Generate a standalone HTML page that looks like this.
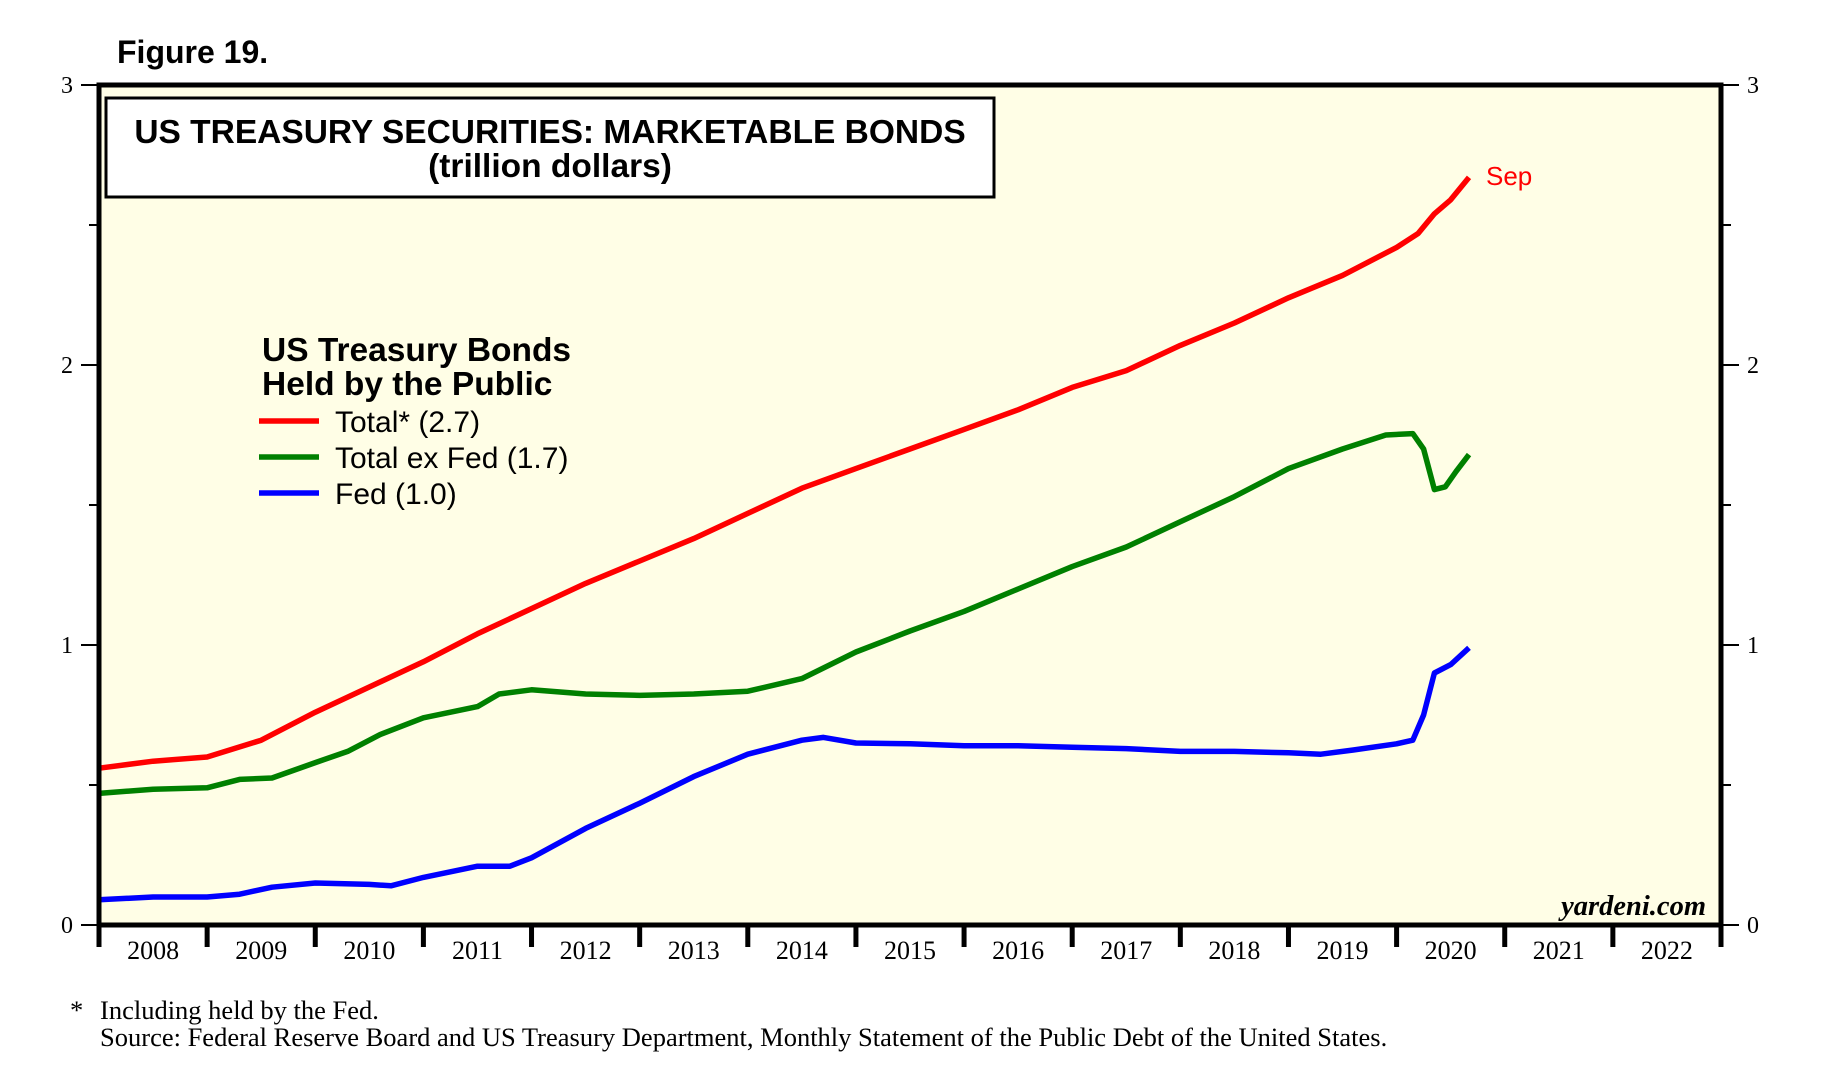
<!DOCTYPE html>
<html><head><meta charset="utf-8"><style>
html,body{margin:0;padding:0;background:#fff}
svg{display:block}
.serif{font-family:"Liberation Serif",serif}
.sans{font-family:"Liberation Sans",sans-serif}
</style></head><body>
<svg id="chart" width="1826" height="1091" viewBox="0 0 1826 1091">
<text x="117" y="63" class="sans" font-size="32" font-weight="bold">Figure 19.</text>
<rect x="99" y="85" width="1622" height="840" fill="#fffee6"/>
<g id="axes"></g>
<g id="series"></g>
<rect x="99" y="85" width="1622" height="840" fill="none" stroke="#000" stroke-width="5"/>
<rect x="106" y="98" width="888" height="99" fill="#fff" stroke="#000" stroke-width="3"/>
<text x="550" y="143" text-anchor="middle" class="sans" font-size="33.5" font-weight="bold">US TREASURY SECURITIES: MARKETABLE BONDS</text>
<text x="550" y="177" text-anchor="middle" class="sans" font-size="33.5" font-weight="bold">(trillion dollars)</text>
<text x="262" y="361" class="sans" font-size="33.5" font-weight="bold">US Treasury Bonds</text>
<text x="262" y="395" class="sans" font-size="33.5" font-weight="bold">Held by the Public</text>
<g><line x1="259" y1="421" x2="319" y2="421" stroke="#f00" stroke-width="5.5"/><text x="335" y="432" class="sans" font-size="30">Total* (2.7)</text></g>
<g><line x1="259" y1="457" x2="319" y2="457" stroke="#008000" stroke-width="5.5"/><text x="335" y="468" class="sans" font-size="30">Total ex Fed (1.7)</text></g>
<g><line x1="259" y1="493" x2="319" y2="493" stroke="#00f" stroke-width="5.5"/><text x="335" y="504" class="sans" font-size="30">Fed (1.0)</text></g>
<text x="1486" y="185" class="sans" font-size="26" fill="#f00">Sep</text>
<text x="1706" y="915" text-anchor="end" class="serif" font-size="28.5" font-weight="bold" font-style="italic">yardeni.com</text>
<text x="70" y="1019" class="serif" font-size="26.5">*</text>
<text x="100" y="1019" class="serif" font-size="26.5">Including held by the Fed.</text>
<text x="100" y="1046" class="serif" font-size="26.5">Source: Federal Reserve Board and US Treasury Department, Monthly Statement of the Public Debt of the United States.</text>
</svg>
<script>
const years = [2008,2009,2010,2011,2012,2013,2014,2015,2016,2017,2018,2019,2020,2021,2022];
const yTicks = [0,1,2,3];
const totalT = [2008.0,2008.5,2009.0,2009.5,2010.0,2010.5,2011.0,2011.5,2012.0,2012.5,2013.0,2013.5,2014.0,2014.5,2015.0,2015.5,2016.0,2016.5,2017.0,2017.5,2018.0,2018.5,2019.0,2019.5,2020.0,2020.2,2020.35,2020.5,2020.67];
const totalV = [0.56,0.585,0.60,0.66,0.76,0.85,0.94,1.04,1.13,1.22,1.30,1.38,1.47,1.56,1.63,1.70,1.77,1.84,1.92,1.98,2.07,2.15,2.24,2.32,2.42,2.47,2.54,2.59,2.67];
const exFedT = [2008.0,2008.5,2009.0,2009.3,2009.6,2010.0,2010.3,2010.6,2011.0,2011.5,2011.7,2012.0,2012.5,2013.0,2013.5,2014.0,2014.5,2015.0,2015.5,2016.0,2016.5,2017.0,2017.5,2018.0,2018.5,2019.0,2019.5,2019.9,2020.15,2020.25,2020.35,2020.45,2020.55,2020.67];
const exFedV = [0.47,0.485,0.49,0.52,0.525,0.58,0.62,0.68,0.74,0.78,0.825,0.84,0.825,0.82,0.825,0.835,0.88,0.975,1.05,1.12,1.20,1.28,1.35,1.44,1.53,1.63,1.70,1.75,1.755,1.70,1.555,1.565,1.62,1.68];
const fedT = [2008.0,2008.5,2009.0,2009.3,2009.6,2010.0,2010.5,2010.7,2011.0,2011.5,2011.8,2012.0,2012.5,2013.0,2013.5,2014.0,2014.5,2014.7,2015.0,2015.5,2016.0,2016.5,2017.0,2017.5,2018.0,2018.5,2019.0,2019.3,2019.6,2020.0,2020.15,2020.25,2020.35,2020.5,2020.67];
const fedV = [0.09,0.10,0.10,0.11,0.135,0.15,0.145,0.14,0.17,0.21,0.21,0.24,0.345,0.435,0.53,0.61,0.66,0.67,0.65,0.647,0.64,0.64,0.635,0.63,0.62,0.62,0.615,0.61,0.625,0.647,0.66,0.75,0.90,0.93,0.99];

const L=99,R=1721,T=85,B=925,NS="http://www.w3.org/2000/svg";
const xS = t => L + (t-2008)/15*(R-L);
const yS = v => B - v/3*(B-T);
function mk(tag,attrs,parent){const e=document.createElementNS(NS,tag);for(const k in attrs)e.setAttribute(k,attrs[k]);parent.appendChild(e);return e;}
const ax=document.getElementById('axes');
yTicks.forEach(v=>{
  let l=mk('line',{x1:L-18,x2:L,y1:yS(v),y2:yS(v),stroke:'#000','stroke-width':2},ax);
  
  
  let r=mk('line',{x1:R,x2:R+18,y1:yS(v),y2:yS(v),stroke:'#000','stroke-width':2},ax);
  
  
  let t1=mk('text',{x:L-26,y:yS(v)+8,'text-anchor':'end','font-size':24,class:'serif'},ax);t1.textContent=v;
  
  
  let t2=mk('text',{x:R+26,y:yS(v)+8,'font-size':24,class:'serif'},ax);t2.textContent=v;
  
  
  if(v<3){
    let m=mk('line',{x1:R,x2:R+10,y1:yS(v+0.5),y2:yS(v+0.5),stroke:'#000','stroke-width':2},ax);
    
    
    let m2=mk('line',{x1:L-10,x2:L,y1:yS(v+0.5),y2:yS(v+0.5),stroke:'#000','stroke-width':2},ax);
    
    
  }
});
years.concat([2023]).forEach(y=>{
  let t=mk('line',{x1:xS(y),x2:xS(y),y1:B,y2:B+22,stroke:'#000','stroke-width':5},ax);
  
  
});
years.forEach(y=>{
  let t=mk('text',{x:xS(y+0.5),y:959,'text-anchor':'middle','font-size':26,class:'serif'},ax);t.textContent=y;
  
  
});
const sg=document.getElementById('series');
function line(ts,vs,color,name){
  const d=ts.map((t,i)=>(i?'L':'M')+xS(t).toFixed(1)+','+yS(vs[i]).toFixed(1)).join(' ');
  const p=mk('path',{d:d,fill:'none',stroke:color,'stroke-width':5.5,'stroke-linejoin':'round'},sg);
  
  
}
line(totalT,totalV,'#f00','total-line');
line(exFedT,exFedV,'#008000','total-ex-fed-line');
line(fedT,fedV,'#00f','fed-line');
</script>
</body></html>
